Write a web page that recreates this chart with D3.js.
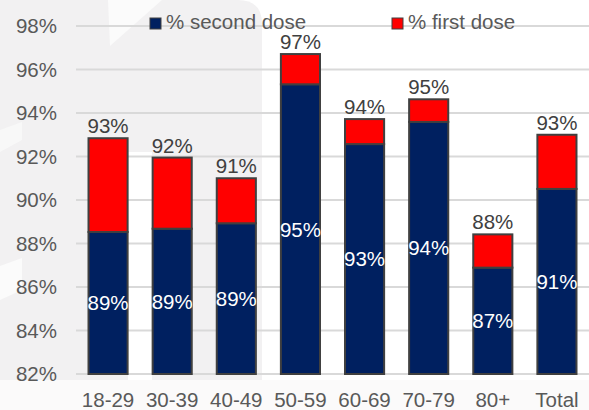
<!DOCTYPE html>
<html>
<head>
<meta charset="utf-8">
<script src="https://cdn.jsdelivr.net/npm/d3@7"></script>
<style>
  html, body { margin: 0; padding: 0; background: #ffffff; }
  svg { display: block; font-family: "Liberation Sans", Arial, sans-serif; }
</style>
</head>
<body>
<svg id="chart" width="589" height="410"></svg>
<script>
// Vaccination coverage by age group
const categories = ["18-29", "30-39", "40-49", "50-59", "60-69", "70-79", "80+", "Total"];
const secondDose = [88.53, 88.68, 88.93, 95.32, 92.57, 93.59, 86.89, 90.51];
const firstDose  = [92.84, 91.95, 91.00, 96.71, 93.72, 94.63, 88.42, 93.00];
const yTicks = [82, 84, 86, 88, 90, 92, 94, 96, 98];
const seriesNames = ["% second dose", "% first dose"];
const seriesColors = ["#002060", "#ff0000"];

const svg = d3.select("#chart");
const W = 589, H = 410;
const margin = { left: 76, right: 0, top: 26, bottom: 36 };

const x = d3.scaleBand()
  .domain(categories)
  .range([margin.left, W - margin.right])
  .paddingInner(0.39)
  .paddingOuter(0.195);

const y = d3.scaleLinear()
  .domain([82, 98])
  .range([H - margin.bottom, margin.top]);

// faint backdrop shapes
const bg = svg.append("g");
bg.append("path")
  .attr("d", "M0,0 H238 Q262,0 262,24 V380 H0 Z")
  .attr("fill", "#f2f1f2");
bg.append("rect").attr("x", 128).attr("y", 152).attr("width", 24).attr("height", 230).attr("fill", "#ffffff");
bg.append("path").attr("d", "M108,0 L162,0 L110,46 Z").attr("fill", "#fbfbfb");
bg.append("path").attr("d", "M0,300 L0,266 L22,258 L22,290 Z").attr("fill", "#fbfbfb");
bg.append("path").attr("d", "M0,152 L0,130 L22,122 L22,140 Z").attr("fill", "#f8f8f8");
bg.append("rect").attr("x", 0).attr("y", 380).attr("width", W).attr("height", 30).attr("fill", "#fbfafa");

// gridlines
svg.append("g")
  .selectAll("line")
  .data(yTicks)
  .join("line")
  .attr("x1", margin.left)
  .attr("x2", W)
  .attr("y1", d => y(d))
  .attr("y2", d => y(d))
  .attr("stroke", "#d9d9d9")
  .attr("stroke-width", 1.8);

// y axis labels
const yAxis = d3.axisLeft(y)
  .tickValues(yTicks)
  .tickFormat(d => d + "%")
  .tickSize(0)
  .tickPadding(0);
const yG = svg.append("g")
  .attr("transform", `translate(${57},0)`)
  .call(yAxis);
yG.select(".domain").remove();
yG.selectAll("text")
  .attr("fill", "#595959")
  .style("font-size", "20.5px")
  .style("font-family", "Liberation Sans, Arial, sans-serif");

// x axis labels
const xAxis = d3.axisBottom(x).tickSize(0).tickPadding(0);
const xG = svg.append("g")
  .attr("transform", `translate(0,${y(82)})`)
  .call(xAxis);
xG.select(".domain").remove();
xG.selectAll("text")
  .attr("fill", "#595959")
  .attr("y", 33)
  .attr("dy", 0)
  .style("font-size", "20.5px")
  .style("font-family", "Liberation Sans, Arial, sans-serif");

// stacked bars
const rows = categories.map((c, i) => ({ c, second: secondDose[i], first: firstDose[i] }));
const bars = svg.append("g");
bars.selectAll("rect.second")
  .data(rows)
  .join("rect")
  .attr("class", "second")
  .attr("x", d => x(d.c))
  .attr("width", x.bandwidth())
  .attr("y", d => y(d.second))
  .attr("height", d => y(82) - y(d.second))
  .attr("fill", seriesColors[0])
  .attr("stroke", "#404040")
  .attr("stroke-width", 2);
bars.selectAll("rect.first")
  .data(rows)
  .join("rect")
  .attr("class", "first")
  .attr("x", d => x(d.c))
  .attr("width", x.bandwidth())
  .attr("y", d => y(d.first))
  .attr("height", d => y(d.second) - y(d.first))
  .attr("fill", seriesColors[1])
  .attr("stroke", "#404040")
  .attr("stroke-width", 2);

// value labels
const labels = svg.append("g")
  .attr("text-anchor", "middle")
  .style("font-size", "20.5px");
labels.selectAll("text.inner")
  .data(rows)
  .join("text")
  .attr("class", "inner")
  .attr("x", d => x(d.c) + x.bandwidth() / 2)
  .attr("y", d => (y(82) + y(d.second)) / 2)
  .attr("dy", "0.36em")
  .attr("fill", "#ffffff")
  .text(d => Math.round(d.second) + "%");
labels.selectAll("text.outer")
  .data(rows)
  .join("text")
  .attr("class", "outer")
  .attr("x", d => x(d.c) + x.bandwidth() / 2)
  .attr("y", d => y(d.first) - 5)
  .attr("fill", "#404040")
  .text(d => Math.round(d.first) + "%");

// legend
const legendX = [150, 392];
const legend = svg.append("g");
seriesNames.forEach((name, i) => {
  legend.append("rect")
    .attr("x", legendX[i])
    .attr("y", 18)
    .attr("width", 11)
    .attr("height", 11)
    .attr("fill", seriesColors[i])
    .attr("stroke", "#404040")
    .attr("stroke-width", 1);
  legend.append("text")
    .attr("x", legendX[i] + 16)
    .attr("y", 29)
    .attr("fill", "#595959")
    .style("font-size", "20.5px")
    .text(name);
});
</script>
</body>
</html>
